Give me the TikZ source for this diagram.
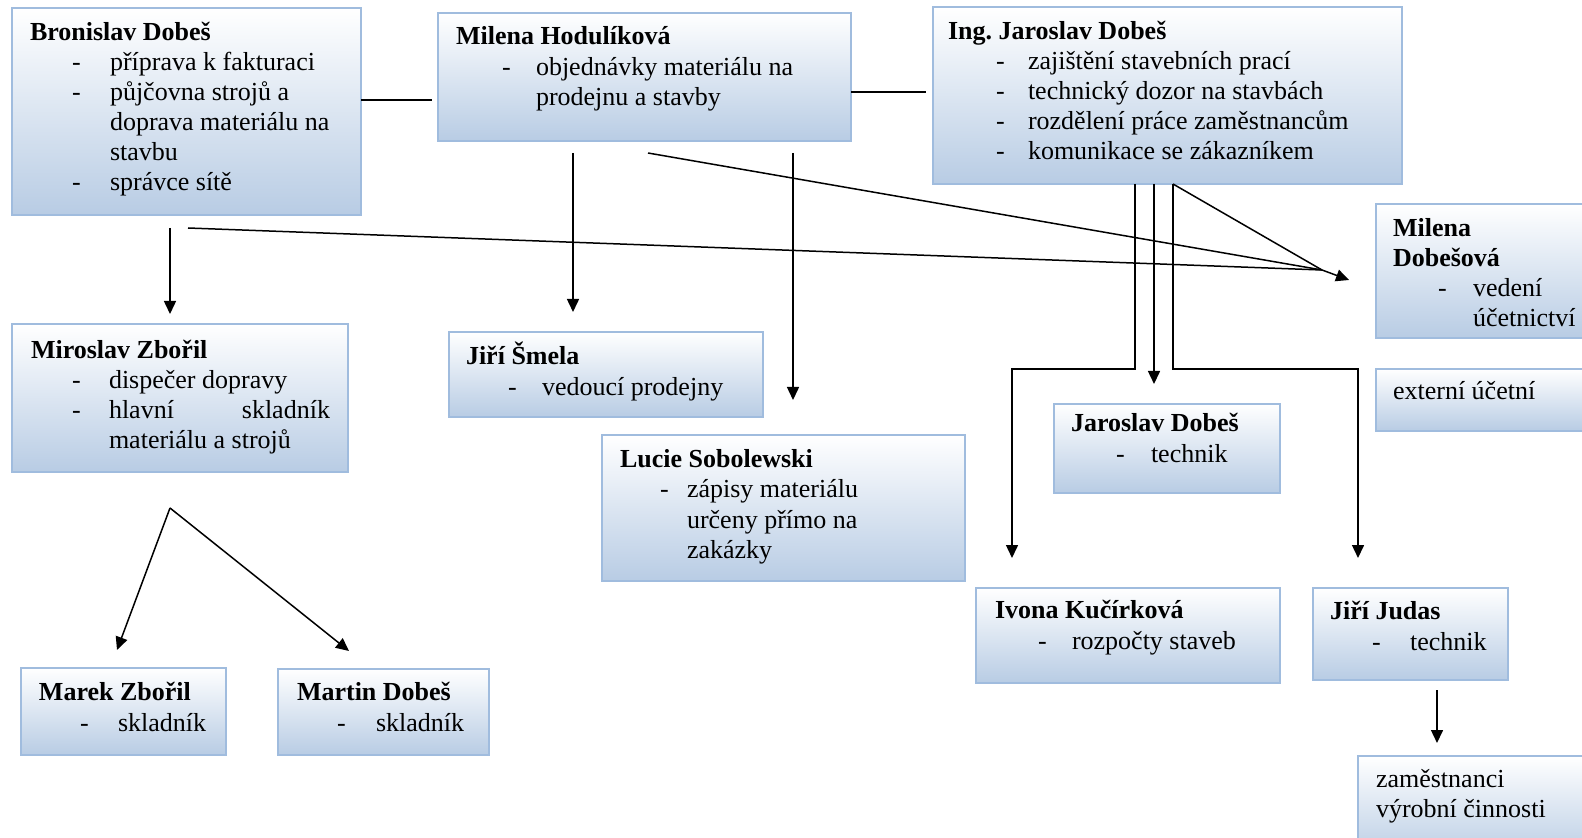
\documentclass[tikz,border=0pt]{standalone}
\usepackage{fontspec}
\setmainfont{Liberation Serif}
\usetikzlibrary{arrows.meta}
\frenchspacing
\definecolor{boxbot}{RGB}{184,204,228}
\definecolor{boxline}{RGB}{160,188,222}
\newcommand\mybox[5]{\node[box, minimum width={(#4-#2)*0.5pt}, minimum height={(#5-#3)*0.5pt}] (#1) at (#2,#3) {};}
\newcommand\tx[4]{\node[txt] (#1) at (#2,#3) {#4};}
\newcommand\tb[4]{\node[ttl] (#1) at (#2,#3) {#4};}
\begin{document}
\begin{tikzpicture}[x=0.5pt,y=-0.5pt,
  box/.style={draw=boxline, line width=0.8pt, top color=white, bottom color=boxbot, anchor=north west, inner sep=0pt, outer sep=0pt},
  txt/.style={inner sep=0pt, outer sep=0pt, anchor=base west, font=\fontsize{13}{15}\selectfont\frenchspacing},
  ttl/.style={txt, font=\fontsize{13}{15}\selectfont\bfseries\frenchspacing},
  conn/.style={line width=0.75pt, black},
  arr/.style={conn, -{Triangle[length=6.5pt,width=6pt]}}]
\useasboundingbox (0,0) rectangle (1582,838);
\fill[white] (0,0) rectangle (1582,838);

% boxes
\mybox{B1}{12}{8}{361}{215}
\mybox{B2}{438}{13}{851}{141}
\mybox{B3}{933}{7}{1402}{184}
\mybox{B4}{1376}{204}{1600}{338}
\mybox{B5}{1376}{369}{1600}{431}
\mybox{B6}{12}{324}{348}{472}
\mybox{B7}{449}{332}{763}{417}
\mybox{B8}{602}{435}{965}{581}
\mybox{B9}{1054}{404}{1280}{493}
\mybox{B10}{976}{588}{1280}{683}
\mybox{B11}{1313}{588}{1508}{680}
\mybox{B12}{21}{668}{226}{755}
\mybox{B13}{278}{669}{489}{755}
\mybox{B14}{1358}{756}{1600}{860}

% texts
\tb{t1}{30}{41}{Bronislav Dobeš}
\tx{t1a}{72}{71}{-}\tx{t1b}{110}{71}{příprava k fakturaci}
\tx{t1c}{72}{101}{-}\tx{t1d}{110}{101}{půjčovna strojů a}
\tx{t1e}{110}{131}{doprava materiálu na}
\tx{t1f}{110}{161}{stavbu}
\tx{t1g}{72}{191}{-}\tx{t1h}{110}{191}{správce sítě}

\tb{t2}{456}{45}{Milena Hodulíková}
\tx{t2a}{502}{76}{-}\tx{t2b}{536}{76}{objednávky materiálu na}
\tx{t2c}{536}{106}{prodejnu a stavby}

\tb{t3}{948}{40}{Ing. Jaroslav Dobeš}
\tx{t3a}{996}{70}{-}\tx{t3b}{1028}{70}{zajištění stavebních prací}
\tx{t3c}{996}{100}{-}\tx{t3d}{1028}{100}{technický dozor na stavbách}
\tx{t3e}{996}{130}{-}\tx{t3f}{1028}{130}{rozdělení práce zaměstnancům}
\tx{t3g}{996}{160}{-}\tx{t3h}{1028}{160}{komunikace se zákazníkem}

\tb{t4}{1393}{237}{Milena}
\tb{t4a}{1393}{267}{Dobešová}
\tx{t4b}{1438}{297}{-}\tx{t4c}{1473}{297}{vedení}
\tx{t4d}{1473}{327}{účetnictví}

\tx{t5}{1393}{400}{externí účetní}

\tb{t6}{31}{359}{Miroslav Zbořil}
\tx{t6a}{72}{389}{-}\tx{t6b}{109}{389}{dispečer dopravy}
\tx{t6c}{72}{419}{-}\tx{t6d}{109}{419}{\makebox[110.5pt][s]{hlavní skladník}}
\tx{t6e}{109}{449}{materiálu a strojů}

\tb{t7}{466}{365}{Jiří Šmela}
\tx{t7a}{508}{396}{-}\tx{t7b}{542}{396}{vedoucí prodejny}

\tb{t8}{620}{468}{Lucie Sobolewski}
\tx{t8a}{660}{498}{-}\tx{t8b}{687}{498}{zápisy materiálu}
\tx{t8c}{687}{529}{určeny přímo na}
\tx{t8d}{687}{559}{zakázky}

\tb{t9}{1071}{432}{Jaroslav Dobeš}
\tx{t9a}{1116}{463}{-}\tx{t9b}{1151}{463}{technik}

\tb{t10}{995}{618}{Ivona Kučírková}
\tx{t10a}{1038}{649}{-}\tx{t10b}{1072}{649}{rozpočty staveb}

\tb{t11}{1330}{619}{Jiří Judas}
\tx{t11a}{1372}{650}{-}\tx{t11b}{1410}{650}{technik}

\tb{t12}{39}{700}{Marek Zbořil}
\tx{t12a}{80}{731}{-}\tx{t12b}{118}{731}{skladník}

\tb{t13}{297}{700}{Martin Dobeš}
\tx{t13a}{337}{731}{-}\tx{t13b}{376}{731}{skladník}

\tx{t14}{1376}{787}{zaměstnanci}
\tx{t14a}{1376}{817}{výrobní činnosti}

% helper coordinates
\coordinate (y100) at (0,100);
\coordinate (y92) at (0,92);
\coordinate (x170) at (170,0);
\coordinate (x573) at (573,0);
\coordinate (x793) at (793,0);
\coordinate (x1154) at (1154,0);
\coordinate (x1173) at (1173,0);
\coordinate (x1437) at (1437,0);
\coordinate (conv) at (1322,270);
\coordinate (tipM) at (1349,280);
\coordinate (d1) at (188,228);
\coordinate (d2) at (648,153);
\coordinate (k1) at (1135,369);
\coordinate (k2) at (1012,369);
\coordinate (k3) at (1173,369);
\coordinate (k4) at (1358,369);
\coordinate (apex) at (170,508);
\coordinate (m1) at (117,650);
\coordinate (m2) at (349,651);

% connectors
\draw[conn, shorten >=3pt] (B1.east |- y100) -- (B2.west |- y100);
\draw[conn, shorten >=3.5pt] (B2.east |- y92) -- (B3.west |- y92);
\draw[arr, shorten <=6.5pt, shorten >=5pt] (B1.south -| x170) -- (B6.north -| x170);
\draw[arr, shorten <=6pt, shorten >=10pt] (B2.south -| x573) -- (B7.north -| x573);
\draw[arr, shorten <=6pt, shorten >=17.5pt] (B2.south -| x793) -- (B8.north -| x793);
\draw[conn] (d1) -- (conv);
\draw[conn] (d2) -- (conv);
\draw[conn] (B3.south -| x1173) -- (conv);
\draw[arr] (conv) -- (tipM);
\draw[arr, shorten >=15pt] (B3.south -| k1) -- (k1) -- (k2) -- (B10.north -| k2);
\draw[arr, shorten >=10pt] (B3.south -| x1154) -- (B9.north -| x1154);
\draw[arr, shorten >=15pt] (B3.south -| k3) -- (k3) -- (k4) -- (B11.north -| k4);
\draw[arr, shorten <=5pt, shorten >=6.5pt] (B11.south -| x1437) -- (B14.north -| x1437);
\draw[arr] (apex) -- (m1);
\draw[arr] (apex) -- (m2);
\end{tikzpicture}
\end{document}
